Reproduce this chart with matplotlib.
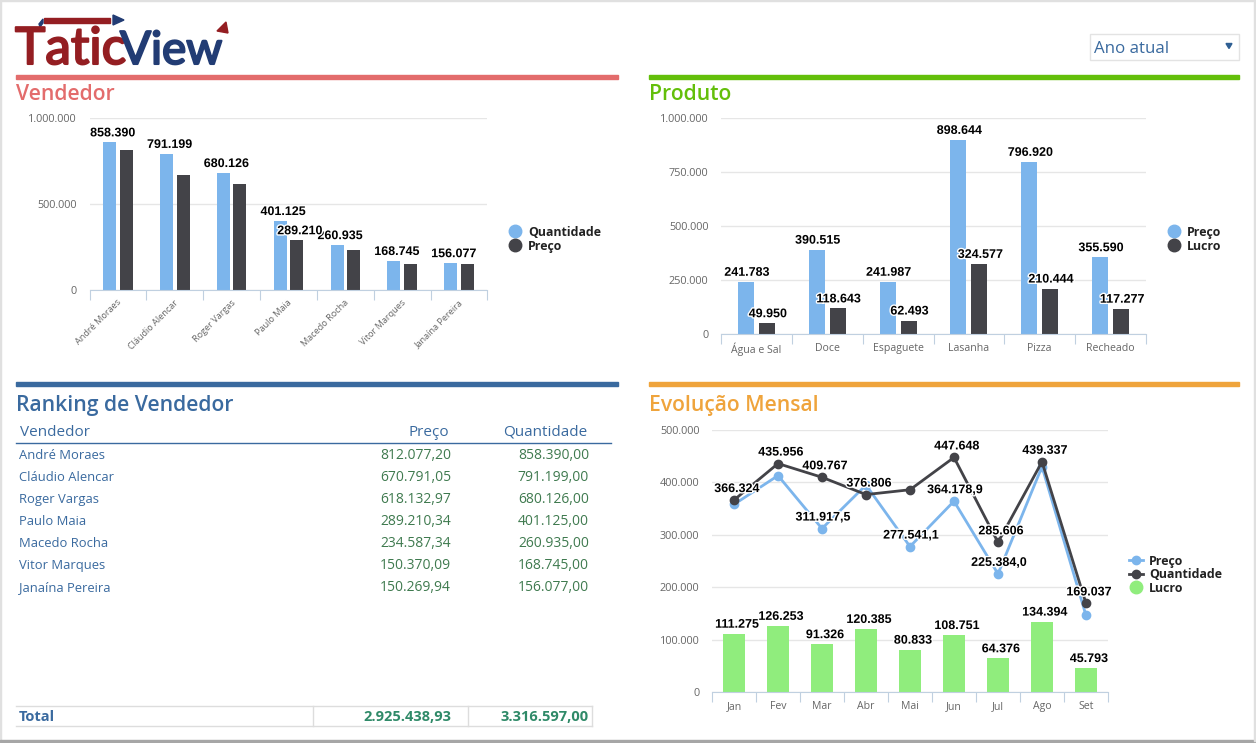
# Dashboard TaticView - vendedor, produto, ranking, evolucao mensal
import matplotlib
matplotlib.use('Agg')
import matplotlib.pyplot as plt
import matplotlib.patheffects as pe
from matplotlib.patches import Polygon, Rectangle
import numpy as np

W, H = 1256, 743

# Dados
vendedores = ['André Moraes', 'Cláudio Alencar', 'Roger Vargas', 'Paulo Maia',
              'Macedo Rocha', 'Vitor Marques', 'Janaína Pereira']
vend_quantidade = [858390, 791199, 680126, 401125, 260935, 168745, 156077]
vend_preco = [812077, 670791, 618133, 289210, 234587, 150370, 150270]

produtos = ['Água e Sal', 'Doce', 'Espaguete', 'Lasanha', 'Pizza', 'Recheado']
prod_preco = [241783, 390515, 241987, 898644, 796920, 355590]
prod_lucro = [49950, 118643, 62493, 324577, 210444, 117277]

rank_preco = ['812.077,20', '670.791,05', '618.132,97', '289.210,34',
              '234.587,34', '150.370,09', '150.269,94']
rank_quant = ['858.390,00', '791.199,00', '680.126,00', '401.125,00',
              '260.935,00', '168.745,00', '156.077,00']
total_preco = '2.925.438,93'
total_quant = '3.316.597,00'

meses = ['Jan', 'Fev', 'Mar', 'Abr', 'Mai', 'Jun', 'Jul', 'Ago', 'Set']
mes_preco = [358000, 413000, 311917.5, 395000, 277541.1, 364178.9, 225384.0, 430000, 146000]
mes_quant = [366324, 435956, 409767, 376806, 386000, 447648, 285606, 439337, 169037]
mes_lucro = [111275, 126253, 91326, 120385, 80833, 108751, 64376, 134394, 45793]

AZUL = '#7cb5ec'
ESCURO = '#434348'
VERDE = '#90ed7d'
GRADE = '#e6e6e6'
EIXO = '#c0d0e0'
TICK = '#666666'
FONTE = 'Open Sans'


def fmt(v):
    return f'{v:,.0f}'.replace(',', '.')


def eixo(x0, y0, x1, y1):
    # cria um axes a partir de pixels (y medido de cima)
    ax = fig.add_axes([x0 / W, 1 - y1 / H, (x1 - x0) / W, (y1 - y0) / H])
    ax.patch.set_alpha(0)
    for s in ['top', 'left', 'right']:
        ax.spines[s].set_visible(False)
    ax.spines['bottom'].set_color(EIXO)
    ax.grid(axis='y', color=GRADE, lw=1)
    ax.set_axisbelow(True)
    ax.tick_params(axis='y', length=0, labelsize=7.8, labelcolor=TICK, pad=9)
    ax.tick_params(axis='x', length=7, color=EIXO, labelsize=8, labelcolor=TICK, pad=3)
    ax.yaxis.set_major_formatter(lambda v, p: fmt(v))
    for t in ax.get_yticklabels():
        t.set_family(FONTE)
    return ax


def rotulo(ax, x, y, s, dx=3, dy=3):
    ax.annotate(s, (x, y), xytext=(dx, dy), textcoords='offset pixels', ha='center', va='bottom',
                fontsize=9, fontweight='bold', color='black', family='Liberation Sans', zorder=6,
                path_effects=[pe.withStroke(linewidth=2, foreground='white')])


def barras_duplas(ax, nomes, a, b, larg, desl):
    x = np.arange(len(nomes))
    ax.bar(x - desl, a, larg, color=AZUL, zorder=2)
    ax.bar(x + desl, b, larg, color=ESCURO, zorder=2)
    ax.set_xlim(-0.5, len(nomes) - 0.5)
    ax.set_xticks(np.arange(len(nomes) + 1) - 0.5)
    ax.set_xticklabels([])
    return x


def legenda(ax_fig, itens, x, y, passo=14):
    for i, (nome, cor, linha) in enumerate(itens):
        yy = y + i * passo
        if linha:
            ax_fig.plot([x - 7, x + 7], [yy, yy], color=cor, lw=2, zorder=5)
            ax_fig.plot([x], [yy], 'o', color=cor, ms=6, zorder=5)
        else:
            ax_fig.plot([x], [yy], 'o', color=cor, ms=9, zorder=5)
        ax_fig.text(x + 13, yy + 1.5, nome, fontsize=8.9, fontweight='bold', family=FONTE,
                    color='#222222', va='center', ha='left')


fig = plt.figure(figsize=(W / 100, H / 100), dpi=100, facecolor='white')

# camada de fundo em pixels
bg = fig.add_axes([0, 0, 1, 1])
bg.set_xlim(0, W)
bg.set_ylim(H, 0)
bg.axis('off')

# bordas da pagina
bg.add_patch(Rectangle((0, 0), W, 1, color='#e0e0e0'))
bg.add_patch(Rectangle((0, 0), 1, H, color='#e0e0e0'))
bg.add_patch(Rectangle((0, 740), W, 2, color='#a6a6a6'))
bg.add_patch(Rectangle((1254, 0), 1, 741, color='#e0e0e0'))

# logo
VERM_LOGO = '#941e22'
AZUL_LOGO = '#223c74'
bg.text(15, 64, 'Tatic', fontsize=37, color=VERM_LOGO, family='Lato', va='baseline', ha='left',
        path_effects=[pe.withStroke(linewidth=1.5, foreground=VERM_LOGO)])
bg.text(120, 64, 'View', fontsize=33, color=AZUL_LOGO, family='Lato', va='baseline', ha='left',
        path_effects=[pe.withStroke(linewidth=1.5, foreground=AZUL_LOGO)])
bg.add_patch(Rectangle((44, 18), 66, 5, color=VERM_LOGO))
bg.add_patch(Polygon([[39, 24], [43, 19], [43, 23], [40, 27]], color=AZUL_LOGO))
bg.add_patch(Polygon([[113, 15], [124, 20], [113, 25]], color=AZUL_LOGO))
bg.add_patch(Polygon([[217, 31], [226, 22], [228, 33]], color=VERM_LOGO))

# seletor
bg.add_patch(Rectangle((1089.5, 33.5), 149, 26, fc='white', ec='#e3e3e3', lw=1))
bg.text(1094, 49, 'Ano atual', fontsize=12.2, color='#3a6a9f', family=FONTE, va='center')
bg.add_patch(Polygon([[1226, 43.5], [1232, 43.5], [1229, 48.5]], color='#2f5f93'))

# titulos das secoes
secoes = [('Vendedor', 16, 618, 77, '#e36c6c', 94), ('Produto', 649, 1239, 77, '#63bf0a', 94),
          ('Ranking de Vendedor', 16, 618, 384, '#3a6a9f', 405),
          ('Evolução Mensal', 649, 1239, 384, '#efa43c', 405)]
for nome, x0, x1, y, cor, yt in secoes:
    bg.add_patch(Rectangle((x0, y - 2), x1 - x0, 4, color=cor))
    bg.text(x0, yt, nome, fontsize=15.2, color=cor, family=FONTE, va='center', fontweight='semibold')

# Vendedor
ax1 = eixo(89.5, 118, 487.5, 290)
x = barras_duplas(ax1, vendedores, vend_quantidade, vend_preco, 0.228, 0.145)
ax1.set_ylim(0, 1000000)
ax1.set_yticks([0, 500000, 1000000])
for i, v in enumerate(vend_quantidade):
    rotulo(ax1, x[i] - 0.145, v, fmt(v))
rotulo(ax1, x[3] + 0.145, vend_preco[3], fmt(vend_preco[3]))
for i, nome in enumerate(vendedores):
    ax1.annotate(nome, (x[i], 0), xytext=(-1, -8), textcoords='offset pixels', rotation=45,
                 rotation_mode='anchor', ha='right', va='top', fontsize=6.6, color=TICK, family=FONTE)

# Produto
ax2 = eixo(721, 118, 1146, 334)
x = barras_duplas(ax2, produtos, prod_preco, prod_lucro, 0.226, 0.148)
ax2.set_ylim(0, 1000000)
ax2.set_yticks([0, 250000, 500000, 750000, 1000000])
for i in range(len(produtos)):
    rotulo(ax2, x[i] - 0.148, prod_preco[i], fmt(prod_preco[i]), dx=1)
    rotulo(ax2, x[i] + 0.148, prod_lucro[i], fmt(prod_lucro[i]), dx=1)
    ax2.annotate(produtos[i], (x[i], 0), xytext=(0, -9), textcoords='offset pixels',
                 ha='center', va='top', fontsize=7.6, color=TICK, family=FONTE)

# Evolucao mensal
ax3 = eixo(712, 430, 1108, 692)
x = np.arange(len(meses))
ax3.bar(x, mes_lucro, 0.5, color=VERDE, zorder=2)
ax3.plot(x, mes_preco, '-o', color=AZUL, lw=2, ms=6, zorder=3)
ax3.plot(x, mes_quant, '-o', color=ESCURO, lw=2, ms=6, zorder=4)
ax3.set_xlim(-0.5, 8.5)
ax3.set_ylim(0, 500000)
ax3.set_yticks(np.arange(0, 500001, 100000))
ax3.set_xticks(np.arange(10) - 0.5)
ax3.set_xticklabels([])
for i, m in enumerate(meses):
    ax3.annotate(m, (x[i], 0), xytext=(0, -9), textcoords='offset pixels',
                 ha='center', va='top', fontsize=7.6, color=TICK, family=FONTE)
    rotulo(ax3, x[i], mes_lucro[i], fmt(mes_lucro[i]))
    if i != 4:
        rotulo(ax3, x[i], mes_quant[i], fmt(mes_quant[i]), dy=5)
for i in [2, 4, 5, 6]:
    s = f'{mes_preco[i]:,.1f}'.replace(',', '#').replace('.', ',').replace('#', '.')
    rotulo(ax3, x[i], mes_preco[i], s, dx=1, dy=5)

# Legendas
legenda(bg, [('Quantidade', AZUL, False), ('Preço', ESCURO, False)], 515, 231)
legenda(bg, [('Preço', AZUL, False), ('Lucro', ESCURO, False)], 1174, 231)
legenda(bg, [('Preço', AZUL, True), ('Quantidade', ESCURO, True), ('Lucro', VERDE, False)], 1136, 560, passo=13.5)

# Ranking
COR_NOME = '#3a6a9f'
COR_NUM = '#3f7a4f'
bg.text(20, 432, 'Vendedor', fontsize=11, color=COR_NOME, family=FONTE, va='center')
bg.text(449, 432, 'Preço', fontsize=11, color=COR_NOME, family=FONTE, va='center', ha='right')
bg.text(587, 432, 'Quantidade', fontsize=11, color=COR_NOME, family=FONTE, va='center', ha='right')
bg.plot([16, 611], [442.5, 442.5], color='#3a6a9f', lw=1)
for i, nome in enumerate(vendedores):
    yy = 455.5 + i * 22
    bg.text(19, yy, nome, fontsize=9.4, color=COR_NOME, family=FONTE, va='center')
    bg.text(451, yy, rank_preco[i], fontsize=10, color=COR_NUM, family=FONTE, va='center', ha='right')
    bg.text(589, yy, rank_quant[i], fontsize=10, color=COR_NUM, family=FONTE, va='center', ha='right')

# Linha de total
for y in [705.5, 725.5]:
    bg.plot([16, 592], [y, y], color='#dddddd', lw=1)
for xx in [312.5, 467.5, 591.5]:
    bg.plot([xx, xx], [705.5, 725.5], color='#dddddd', lw=1)
bg.text(19, 717, 'Total', fontsize=10.5, fontweight='bold', color=COR_NOME, family=FONTE, va='center')
bg.text(451, 717, total_preco, fontsize=10.5, fontweight='bold', color='#2f8a68', family=FONTE, va='center', ha='right')
bg.text(589, 717, total_quant, fontsize=10.5, fontweight='bold', color='#2f8a68', family=FONTE, va='center', ha='right')

fig.savefig('out.png', dpi=100)
